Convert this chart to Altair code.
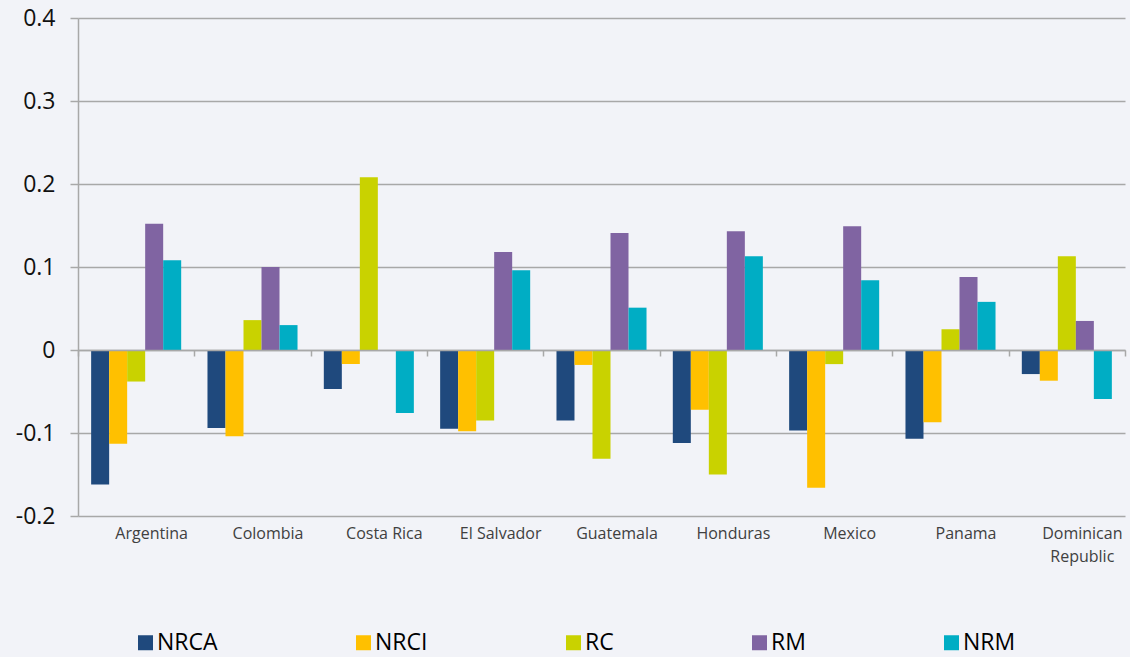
import altair as alt
import pandas as pd

# Countries along the x axis
countries = [
    "Argentina", "Colombia", "Costa Rica", "El Salvador", "Guatemala",
    "Honduras", "Mexico", "Panama", "Dominican Republic",
]

# Series names and their colours
series = ["NRCA", "NRCI", "RC", "RM", "NRM"]
colors = ["#1F497D", "#FFC000", "#C9D200", "#8064A2", "#00ADC4"]

# Values per series, one per country (None = no bar)
nrca = [-0.162, -0.094, -0.047, -0.095, -0.085, -0.112, -0.097, -0.107, -0.029]
nrci = [-0.113, -0.104, -0.017, -0.098, -0.018, -0.072, -0.166, -0.087, -0.037]
rc = [-0.038, 0.036, 0.208, -0.085, -0.131, -0.150, -0.017, 0.025, 0.113]
rm = [0.152, 0.100, None, 0.118, 0.141, 0.143, 0.149, 0.088, 0.035]
nrm = [0.108, 0.030, -0.076, 0.096, 0.051, 0.113, 0.084, 0.058, -0.059]

y_ticks = [-0.2, -0.1, 0, 0.1, 0.2, 0.3, 0.4]

rows = []
for name, vals in zip(series, [nrca, nrci, rc, rm, nrm]):
    for country, v in zip(countries, vals):
        if v is not None:
            rows.append({"country": country, "series": name, "value": v})
df = pd.DataFrame(rows)

GRID = "#A8A8A8"

chart = (
    alt.Chart(df)
    .mark_bar()
    .encode(
        x=alt.X(
            "country:N",
            sort=countries,
            scale=alt.Scale(paddingInner=0, paddingOuter=0),
            axis=alt.Axis(
                title=None,
                orient="bottom",
                offset=-166,
                grid=False,
                domainColor=GRID,
                domainWidth=1.5,
                tickColor=GRID,
                tickWidth=1.5,
                tickSize=6,
                tickBand="extent",
                labelAngle=0,
                labelFont="Open Sans",
                labelFontSize=16,
                labelColor="#404040",
                labelPadding=169,
                labelOffset=15,
                labelOverlap=False,
                labelLineHeight=23,
                labelExpr="datum.label == 'Dominican Republic' ? ['Dominican', 'Republic'] : datum.label",
                zindex=1,
            ),
        ),
        xOffset=alt.XOffset(
            "series:N",
            sort=series,
            scale=alt.Scale(paddingInner=0, paddingOuter=0.73),
        ),
        y=alt.Y(
            "value:Q",
            scale=alt.Scale(domain=[-0.2, 0.4], nice=False, zero=True),
            axis=alt.Axis(
                title=None,
                values=y_ticks,
                grid=True,
                gridColor=GRID,
                gridWidth=1.5,
                domainColor=GRID,
                domainWidth=1.5,
                tickColor=GRID,
                tickWidth=1.5,
                tickSize=8,
                labelFont="Open Sans",
                labelFontSize=23,
                labelColor="#111111",
                labelPadding=15,
                labelExpr="abs(datum.value) < 1e-9 ? '0' : (datum.value < 0 ? '-' : '') + format(abs(datum.value), '.1f')",
            ),
        ),
        color=alt.Color(
            "series:N",
            sort=series,
            scale=alt.Scale(domain=series, range=colors),
            legend=alt.Legend(
                title=None,
                orient="none",
                direction="horizontal",
                legendX=56,
                legendY=613,
                symbolType="square",
                symbolSize=225,
                symbolStrokeWidth=0,
                symbolOpacity=1,
                labelFont="Open Sans",
                labelFontSize=23,
                labelColor="#000000",
                labelOffset=0,
                columnPadding=134,
            ),
        ),
    )
    .properties(
        width=1047,
        height=498,
        autosize=alt.AutoSizeParams(type="none"),
        padding={"left": 78, "top": 18, "right": 5, "bottom": 141},
        background="#F2F3F8",
    )
    .configure_view(strokeWidth=0)
)

chart.save("out.html", embed_options={"renderer": "svg", "actions": False})
